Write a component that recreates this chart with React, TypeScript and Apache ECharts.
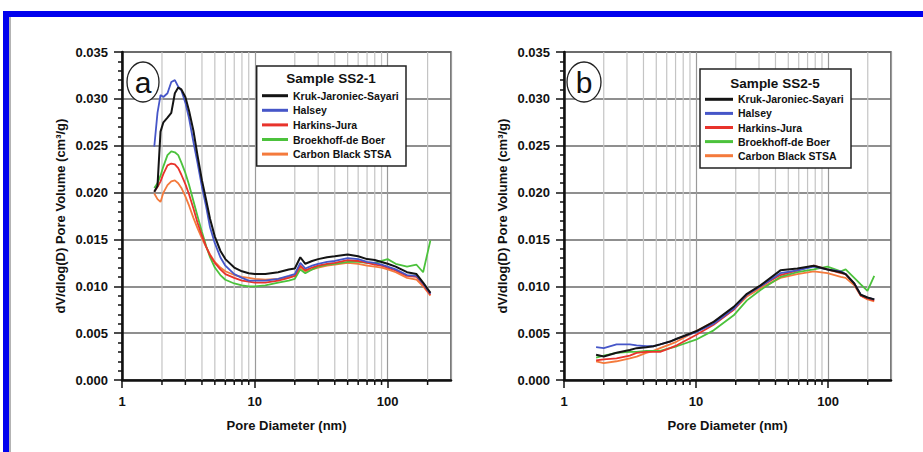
import React, { useEffect, useRef } from "react";
import * as echarts from "echarts";

// ---------- data ----------
const seriesNames = ["Kruk-Jaroniec-Sayari", "Halsey", "Harkins-Jura", "Broekhoff-de Boer", "Carbon Black STSA"];
const seriesColors = ["#141414", "#4656c8", "#e8332b", "#4cc23c", "#f47a3c"];

// panel a: Sample SS2-1
const diamA = [1.75, 1.85, 1.95, 2.05, 2.2, 2.35, 2.5, 2.65, 2.8, 3.0, 3.2, 3.45, 3.7, 4.0, 4.3, 4.6, 5.0, 5.5, 6.0, 7.0, 8.0, 9.0, 10, 12, 15, 18, 20, 22, 24, 27, 30, 35, 40, 50, 60, 70, 80, 90, 100, 115, 140, 165, 185, 210];
const kjsA = [0.0201, 0.0207, 0.0265, 0.0275, 0.0280, 0.0285, 0.0306, 0.0312, 0.0310, 0.0302, 0.0287, 0.0266, 0.0240, 0.0213, 0.0192, 0.0172, 0.0153, 0.0138, 0.0129, 0.0120, 0.0116, 0.0114, 0.0113, 0.0113, 0.0115, 0.0118, 0.0119, 0.0131, 0.0124, 0.0127, 0.0129, 0.0131, 0.0132, 0.0134, 0.0132, 0.0129, 0.0128, 0.0126, 0.0124, 0.0121, 0.0115, 0.0113, 0.0104, 0.0093];
const halseyA = [0.0249, 0.0285, 0.0304, 0.0302, 0.0306, 0.0318, 0.0320, 0.0313, 0.0309, 0.0296, 0.0279, 0.0254, 0.0232, 0.0206, 0.0185, 0.0163, 0.0146, 0.0131, 0.0122, 0.0113, 0.0109, 0.0106, 0.0106, 0.0106, 0.0108, 0.0111, 0.0113, 0.0125, 0.0119, 0.0122, 0.0124, 0.0126, 0.0127, 0.0130, 0.0129, 0.0126, 0.0125, 0.0123, 0.0121, 0.0118, 0.0112, 0.0111, 0.0103, 0.0092];
const harkinsA = [0.0201, 0.0206, 0.0212, 0.0220, 0.0229, 0.0231, 0.0230, 0.0226, 0.0219, 0.0209, 0.0198, 0.0183, 0.0168, 0.0154, 0.0142, 0.0133, 0.0125, 0.0118, 0.0113, 0.0109, 0.0106, 0.0105, 0.0104, 0.0104, 0.0106, 0.0109, 0.0111, 0.0122, 0.0117, 0.0120, 0.0122, 0.0124, 0.0125, 0.0128, 0.0127, 0.0125, 0.0123, 0.0122, 0.0120, 0.0117, 0.0111, 0.0110, 0.0102, 0.0091];
const broekhoffA = [0.0205, 0.0210, 0.0218, 0.0228, 0.0240, 0.0244, 0.0243, 0.0240, 0.0232, 0.0221, 0.0208, 0.0191, 0.0175, 0.0158, 0.0143, 0.0131, 0.0120, 0.0112, 0.0107, 0.0103, 0.0101, 0.0100, 0.0100, 0.0101, 0.0104, 0.0106, 0.0108, 0.0118, 0.0114, 0.0118, 0.0121, 0.0123, 0.0124, 0.0126, 0.0126, 0.0125, 0.0125, 0.0127, 0.0129, 0.0124, 0.0121, 0.0123, 0.0115, 0.0149];
const carbonA = [0.0199, 0.0193, 0.0190, 0.0200, 0.0208, 0.0212, 0.0213, 0.0210, 0.0205, 0.0196, 0.0186, 0.0173, 0.0162, 0.0151, 0.0142, 0.0134, 0.0126, 0.0120, 0.0116, 0.0112, 0.0110, 0.0109, 0.0108, 0.0107, 0.0108, 0.0110, 0.0111, 0.0120, 0.0116, 0.0118, 0.0120, 0.0122, 0.0123, 0.0125, 0.0124, 0.0122, 0.0121, 0.0120, 0.0118, 0.0115, 0.0109, 0.0107, 0.0100, 0.0090];

// panel b: Sample SS2-5
const diamB = [1.75, 2.0, 2.5, 3.15, 3.55, 4.2, 4.75, 5.35, 6.35, 7.15, 10, 13.6, 19.3, 24.3, 30.8, 43.6, 58.5, 78, 99, 125, 136, 158, 177, 199, 224];
const kjsB = [0.0027, 0.0025, 0.0029, 0.0032, 0.0034, 0.0035, 0.0036, 0.0038, 0.0041, 0.0044, 0.0052, 0.0062, 0.0078, 0.0092, 0.0101, 0.0117, 0.0119, 0.0122, 0.0118, 0.0115, 0.0113, 0.0103, 0.0091, 0.0088, 0.0086];
const halseyB = [0.0035, 0.0034, 0.0038, 0.0038, 0.0037, 0.0036, 0.0036, 0.0038, 0.0041, 0.0044, 0.0051, 0.0060, 0.0076, 0.0091, 0.0100, 0.0114, 0.0117, 0.0121, 0.0118, 0.0116, 0.0113, 0.0103, 0.0091, 0.0088, 0.0086];
const harkinsB = [0.0021, 0.0022, 0.0023, 0.0026, 0.0029, 0.0030, 0.0030, 0.0030, 0.0034, 0.0037, 0.0048, 0.0059, 0.0075, 0.0091, 0.0100, 0.0112, 0.0117, 0.0122, 0.0118, 0.0114, 0.0113, 0.0103, 0.0090, 0.0087, 0.0085];
const broekhoffB = [0.0024, 0.0026, 0.0029, 0.0030, 0.0030, 0.0031, 0.0031, 0.0031, 0.0034, 0.0036, 0.0043, 0.0053, 0.0069, 0.0085, 0.0096, 0.0110, 0.0115, 0.0118, 0.0121, 0.0116, 0.0118, 0.0109, 0.0102, 0.0095, 0.0111];
const carbonB = [0.0020, 0.0018, 0.0020, 0.0023, 0.0025, 0.0029, 0.0031, 0.0034, 0.0038, 0.0041, 0.0052, 0.0062, 0.0075, 0.0089, 0.0098, 0.0109, 0.0113, 0.0116, 0.0114, 0.0110, 0.0109, 0.0101, 0.0090, 0.0086, 0.0084];

// axes
const xMin = 1;
const xMax = 300;
const xMajorLabels = [1, 10, 100];
const xMinorTicks = [2, 3, 4, 5, 6, 7, 8, 9, 20, 30, 40, 50, 60, 70, 80, 90, 200];
const yMin = 0;
const yMax = 0.035;
const yInterval = 0.005;

const panelTitles = ["Sample SS2-1", "Sample SS2-5"];
const panelLetters = ["a", "b"];
const xTitle = "Pore Diameter (nm)";
const yTitle = "dV/dlog(D) Pore Volume (cm\u00b3/g)";

const FONT = "'Liberation Sans', Arial, sans-serif";

export default function App() {
  const ref = useRef<HTMLDivElement>(null);

  useEffect(() => {
    if (!ref.current) return;
    const chart = echarts.init(ref.current, null, { renderer: "svg" });

    const panelsData = [
      { diam: diamA, vals: [kjsA, halseyA, harkinsA, broekhoffA, carbonA] },
      { diam: diamB, vals: [kjsB, halseyB, harkinsB, broekhoffB, carbonB] },
    ];

    const grids = [
      { left: 122, top: 52, width: 329, height: 328 },
      { left: 564, top: 52, width: 327, height: 328 },
    ].map((g) => ({
      ...g,
      show: true,
      borderColor: "#4a4a4a",
      borderWidth: 1.5,
      backgroundColor: "transparent",
      containLabel: false,
      outerBoundsMode: "none",
    }));

    const xAxes = [0, 1].map((i) => ({
      type: "log",
      logBase: 10,
      gridIndex: i,
      min: xMin,
      max: xMax,
      name: xTitle,
      nameLocation: "middle",
      nameGap: 39,
      nameTextStyle: { fontFamily: FONT, fontWeight: "bold", fontSize: 13, color: "#111" },
      axisLine: { show: true, onZero: false, lineStyle: { color: "#111", width: 2.5 } },
      axisTick: { show: true, length: 8, lineStyle: { color: "#111", width: 1.5 } },
      minorTick: { show: false },
      axisLabel: {
        margin: 15,
        fontFamily: FONT,
        fontWeight: "bold",
        fontSize: 13,
        color: "#111",
        showMaxLabel: false,
        formatter: (v: number) => (xMajorLabels.includes(Math.round(v)) ? String(Math.round(v)) : ""),
      },
      splitLine: { show: true, lineStyle: { color: "#9a9a9a", width: 1.2 } },
    }));

    const yAxes = [0, 1].map((i) => ({
      type: "value",
      gridIndex: i,
      min: yMin,
      max: yMax,
      interval: yInterval,
      name: yTitle,
      nameLocation: "middle",
      nameGap: 55,
      nameTextStyle: { fontFamily: FONT, fontWeight: "bold", fontSize: 13, color: "#111" },
      axisLine: { show: true, lineStyle: { color: "#111", width: 2.5 } },
      axisTick: { show: true, length: 8, lineStyle: { color: "#111", width: 1.5 } },
      minorTick: { show: true, splitNumber: 5, length: 4, lineStyle: { color: "#111", width: 1.5 } },
      axisLabel: {
        margin: 14,
        fontFamily: FONT,
        fontWeight: "bold",
        fontSize: 13,
        color: "#111",
        formatter: (v: number) => v.toFixed(3),
      },
      splitLine: { show: true, lineStyle: { color: "#6a6a6a", width: 1.5 } },
    }));

    const series: any[] = [];
    [0, 1].forEach((p) => {
      // minor vertical grid lines + minor ticks on the log axis
      series.push({
        type: "custom",
        name: "minor" + p,
        xAxisIndex: p,
        yAxisIndex: p,
        silent: true,
        clip: false,
        z: 1,
        data: xMinorTicks.map((d) => [d, yMin]),
        renderItem: (_params: any, api: any) => {
          const v = api.value(0);
          const top = api.coord([v, yMax]);
          const bot = api.coord([v, yMin]);
          return {
            type: "group",
            children: [
              {
                type: "line",
                shape: { x1: top[0], y1: top[1], x2: bot[0], y2: bot[1] },
                style: { stroke: "#c4c4c4", lineWidth: 1.2 },
              },
              {
                type: "line",
                shape: { x1: bot[0], y1: bot[1], x2: bot[0], y2: bot[1] + 5 },
                style: { stroke: "#111", lineWidth: 1.5 },
              },
            ],
          };
        },
      });
      // draw order: orange, green, red, blue, black on top
      [4, 3, 2, 1, 0].forEach((k) => {
        series.push({
          type: "line",
          name: seriesNames[k],
          xAxisIndex: p,
          yAxisIndex: p,
          showSymbol: false,
          symbol: "none",
          z: 3 + (4 - k),
          color: seriesColors[k],
          lineStyle: { color: seriesColors[k], width: k === 0 ? 2 : 1.8 },
          data: panelsData[p].diam.map((d, i) => [d, panelsData[p].vals[k][i]]),
        });
      });
    });

    const legendText = { fontFamily: FONT, fontWeight: "bold", fontSize: 10.5, color: "#111", lineHeight: 12 };
    const legends = [
      { left: 262, top: 89.7, itemWidth: 26, itemGap: 2.6 },
      { left: 705, top: 93.3, itemWidth: 28, itemGap: 2.1 },
    ].map((l) => ({
      ...l,
      orient: "vertical",
      padding: 0,
      itemHeight: 3,
      icon: "rect",
      selectedMode: false,
      z: 10,
      data: seriesNames,
      textStyle: legendText,
    }));

    const boxes = [
      { x: 256.7, y: 66, w: 149.3, h: 100, tx: 331, ty: 78 },
      { x: 700, y: 69, w: 151, h: 99, tx: 775, ty: 83 },
    ];
    const letters = [
      { cx: 143, cy: 82, rx: 16, ry: 20 },
      { cx: 584, cy: 82, rx: 17, ry: 20 },
    ];

    const graphic: any[] = [
      {
        type: "rect",
        z: 20,
        shape: { x: 6, y: 14, width: 1200, height: 1200 },
        style: { fill: "none", stroke: "#0000ee", lineWidth: 6 },
      },
      {
        type: "line",
        z: 20,
        shape: { x1: 10, y1: 17, x2: 10, y2: 452 },
        style: { stroke: "#9a9a9a", lineWidth: 1.5 },
      },
    ];
    boxes.forEach((b, i) => {
      graphic.push({
        type: "rect",
        z: 8,
        shape: { x: b.x, y: b.y, width: b.w, height: b.h },
        style: { fill: "#ffffff", stroke: "#222", lineWidth: 1.5 },
      });
      graphic.push({
        type: "text",
        z: 9,
        x: b.tx,
        y: b.ty,
        style: {
          text: panelTitles[i],
          fontFamily: FONT,
          fontWeight: "bold",
          fontSize: 13.5,
          fill: "#111",
          align: "center",
          verticalAlign: "middle",
        },
      });
    });
    letters.forEach((c, i) => {
      graphic.push({
        type: "ellipse",
        z: 9,
        shape: { cx: c.cx, cy: c.cy, rx: c.rx, ry: c.ry },
        style: { fill: "#ffffff", stroke: "#222", lineWidth: 1.3 },
      });
      graphic.push({
        type: "text",
        z: 10,
        x: c.cx,
        y: c.cy,
        style: {
          text: panelLetters[i],
          fontFamily: "'Liberation Sans Narrow', 'Liberation Sans', Arial, sans-serif",
          fontSize: 30,
          fill: "#111",
          align: "center",
          verticalAlign: "middle",
        },
      });
    });

    chart.setOption({
      animation: false,
      backgroundColor: "#ffffff",
      grid: grids,
      xAxis: xAxes,
      yAxis: yAxes,
      legend: legends,
      series,
      graphic,
    });

    return () => chart.dispose();
  }, []);

  return (
    <div
      ref={ref}
      style={{ position: "absolute", left: 0, top: 0, width: 923, height: 452, background: "#fff" }}
    />
  );
}
